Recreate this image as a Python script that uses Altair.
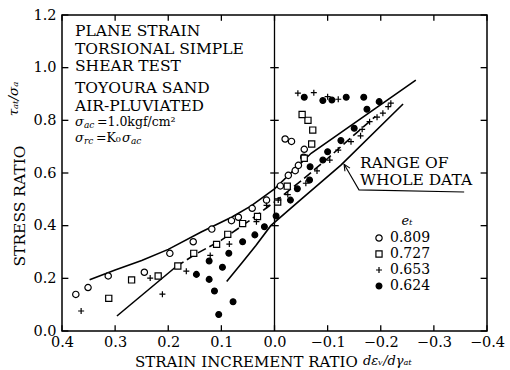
import altair as alt
import pandas as pd

SERIF = "DejaVu Serif"

# ---------------- data ----------------
levels = ["0.809", "0.727", "0.653", "0.624"]

c809_x = [0.374, 0.351, 0.313, 0.245, 0.197, 0.153, 0.118, 0.081, 0.068, 0.042,
          0.015, -0.011, -0.026, -0.039, -0.045, -0.020, -0.032, -0.056, -0.055]
c809_y = [0.139, 0.165, 0.209, 0.223, 0.295, 0.339, 0.387, 0.419, 0.432, 0.466,
          0.497, 0.551, 0.591, 0.609, 0.629, 0.729, 0.720, 0.690, 0.660]

s727_x = [0.312, 0.269, 0.219, 0.182, 0.152, 0.109, 0.088, 0.060, 0.032, -0.006,
          -0.024, -0.056, -0.070, -0.072, -0.063, -0.052]
s727_y = [0.124, 0.194, 0.209, 0.247, 0.295, 0.329, 0.367, 0.408, 0.435, 0.490,
          0.550, 0.656, 0.710, 0.763, 0.800, 0.822]

p653_x = [0.364, 0.234, 0.211, 0.166, 0.121, 0.085, 0.034, 0.015, -0.007, -0.025,
          -0.059, -0.080, -0.104, -0.120, -0.144, -0.162, -0.165, -0.179, -0.193,
          -0.204, -0.214, -0.219, -0.044, -0.074, -0.100, -0.120]
p653_y = [0.076, 0.201, 0.140, 0.227, 0.287, 0.330, 0.415, 0.477, 0.497, 0.518,
          0.561, 0.608, 0.649, 0.687, 0.719, 0.741, 0.766, 0.795, 0.812,
          0.827, 0.852, 0.865, 0.903, 0.905, 0.890, 0.880]

f624_x = [0.147, 0.123, 0.123, 0.113, 0.105, 0.098, 0.086, 0.078, 0.060, 0.037,
          0.019, -0.003, -0.030, -0.043, -0.066, -0.067, -0.091, -0.100, -0.125,
          -0.150, -0.174, -0.197, -0.056, -0.091, -0.108, -0.135, -0.168]
f624_y = [0.215, 0.196, 0.266, 0.152, 0.063, 0.242, 0.295, 0.111, 0.339, 0.365,
          0.396, 0.437, 0.497, 0.540, 0.573, 0.624, 0.649, 0.681, 0.723,
          0.770, 0.842, 0.871, 0.888, 0.875, 0.877, 0.888, 0.888]

# envelope ("range of whole data") and mean line
upper_x = [0.348, 0.30, 0.25, 0.20, 0.138, 0.08, 0.044, 0.0, -0.069, -0.266]
upper_y = [0.195, 0.232, 0.268, 0.31, 0.376, 0.433, 0.475, 0.54, 0.675, 0.953]
lower_x = [0.09, 0.06, 0.035, 0.007, -0.05, -0.125, -0.242]
lower_y = [0.188, 0.262, 0.325, 0.40, 0.50, 0.63, 0.862]
mid_solid_x = [0.2966, 0.1855]
mid_solid_y = [0.057, 0.244]
mid_dash_x = [0.1855, 0.15, 0.10, 0.05, 0.0, -0.05, -0.10, -0.15, -0.19]
mid_dash_y = [0.244, 0.29, 0.345, 0.415, 0.49, 0.57, 0.655, 0.745, 0.815]
leader_x = [-0.131, -0.159, -0.357]
leader_y = [0.633, 0.536, 0.528]
arrow_x = [-0.1326, -0.131, -0.1421]
arrow_y = [0.6066, 0.633, 0.6186]

x_ticks = [0.4, 0.3, 0.2, 0.1, 0.0, -0.1, -0.2, -0.3, -0.4]
y_ticks = [0.0, 0.2, 0.4, 0.6, 0.8, 1.0, 1.2]

# ---------------- tables ----------------
pts = pd.concat([
    pd.DataFrame({"x": c809_x, "y": c809_y, "e": levels[0]}),
    pd.DataFrame({"x": s727_x, "y": s727_y, "e": levels[1]}),
    pd.DataFrame({"x": p653_x, "y": p653_y, "e": levels[2]}),
    pd.DataFrame({"x": f624_x, "y": f624_y, "e": levels[3]}),
], ignore_index=True)


def line_df(xs, ys, name):
    return pd.DataFrame({"x": xs, "y": ys, "i": list(range(len(xs))), "name": name})


solid_lines = pd.concat([line_df(upper_x, upper_y, "upper"),
                         line_df(lower_x, lower_y, "lower"),
                         line_df(mid_solid_x, mid_solid_y, "mid0")], ignore_index=True)
dash_line = line_df(mid_dash_x, mid_dash_y, "mid")
leader = pd.concat([line_df(leader_x, leader_y, "leader"),
                    line_df(arrow_x, arrow_y, "arrow")], ignore_index=True)

segs = []
for v in x_ticks:
    segs.append((v, v, 0.0, 0.022))
    segs.append((v, v, 1.2, 1.178))
for v in y_ticks:
    segs.append((0.4, 0.388, v, v))
    segs.append((-0.4, -0.388, v, v))
for v in y_ticks[1:-1]:
    segs.append((0.008, -0.008, v, v))
segs.append((0.0, 0.0, 0.0, 1.2))
ticks = pd.DataFrame(segs, columns=["x", "x2", "y", "y2"])

# ---------------- scales / axes ----------------
X_SCALE = alt.Scale(domain=[-0.4, 0.4], reverse=True, nice=False, zero=False)
Y_SCALE = alt.Scale(domain=[0, 1.2], nice=False, zero=False)
x_axis = alt.Axis(values=x_ticks, format=".1f", title=None, ticks=False, domain=False,
                  grid=False, labelFont=SERIF, labelFontSize=14.5, labelColor="black",
                  labelPadding=4, labelFlush=False)
y_axis = alt.Axis(values=y_ticks, format=".1f", title=None, ticks=False, domain=False,
                  grid=False, labelFont=SERIF, labelFontSize=14.5, labelColor="black",
                  labelPadding=6, labelFlush=False)


def X(f):
    return alt.X(f, type="quantitative", scale=X_SCALE, axis=x_axis)


def Y(f):
    return alt.Y(f, type="quantitative", scale=Y_SCALE, axis=y_axis)


tick_layer = alt.Chart(ticks).mark_rule(color="black", strokeWidth=1.3).encode(
    x=X("x"), x2=alt.X2("x2"), y=Y("y"), y2=alt.Y2("y2"))

solid_layer = alt.Chart(solid_lines).mark_line(color="black", strokeWidth=1.6).encode(
    x=X("x"), y=Y("y"), order=alt.Order("i:Q"), detail="name:N")
dash_layer = alt.Chart(dash_line).mark_line(color="black", strokeWidth=1.6,
                                             strokeDash=[9, 4]).encode(
    x=X("x"), y=Y("y"), order=alt.Order("i:Q"))
leader_layer = alt.Chart(leader).mark_line(color="black", strokeWidth=1.1).encode(
    x=X("x"), y=Y("y"), order=alt.Order("i:Q"), detail="name:N")

leg = alt.Legend(orient="none", legendX=310, legendY=216, title=None,
                 labelFont=SERIF, labelFontSize=14, labelColor="black",
                 symbolStrokeColor="black", symbolStrokeWidth=1.2,
                 rowPadding=2, labelOffset=4, padding=0)

plus_path = "M-1,0L1,0M0,-1L0,1"
point_layer = alt.Chart(pts).mark_point(filled=True, stroke="black", strokeWidth=1.2,
                                         opacity=1).encode(
    x=X("x"), y=Y("y"),
    shape=alt.Shape("e:N", scale=alt.Scale(domain=levels,
                    range=["circle", "square", plus_path, "circle"]), legend=leg),
    fill=alt.Fill("e:N", scale=alt.Scale(domain=levels,
                  range=["white", "white", "black", "black"]), legend=leg),
    stroke=alt.Stroke("e:N", scale=alt.Scale(domain=levels,
                      range=["black", "black", "black", "black"]), legend=leg),
    size=alt.Size("e:N", scale=alt.Scale(domain=levels, range=[40, 34, 90, 45]),
                  legend=leg),
)

# ---------------- texts (pixel positions in the page) ----------------
OX, OY = 62, 15


def txt(s, x, y, size, style="normal", angle=0, align="left"):
    return alt.Chart(pd.DataFrame({"a": [0]})).mark_text(
        text=s, font=SERIF, fontSize=size, fontStyle=style, align=align,
        baseline="middle", angle=angle, color="black").encode(
        x=alt.value(x - OX), y=alt.value(y - OY))


texts = [
    txt("PLANE STRAIN", 75, 31, 15.5),
    txt("TORSIONAL SIMPLE", 75, 48.5, 15.5),
    txt("SHEAR TEST", 75, 66, 15.5),
    txt("TOYOURA SAND", 75, 88, 15.5),
    txt("AIR-PLUVIATED", 75, 105.5, 15.5),
    txt("σ", 75, 121.5, 13, "italic"),
    txt("ac", 84, 125, 9, "italic"),
    txt("=1.0kgf/cm²", 97, 121.5, 12.5),
    txt("σ", 75, 137.5, 13, "italic"),
    txt("rc", 84, 141, 9, "italic"),
    txt("=K₀", 96, 137.5, 12.5),
    txt("σ", 122, 137.5, 13, "italic"),
    txt("ac", 131, 141, 9, "italic"),
    txt("RANGE OF", 360, 163, 15.5),
    txt("WHOLE DATA", 360, 180, 15.5),
    txt("eₜ", 407, 221, 13, "italic", align="center"),
    txt("STRAIN INCREMENT RATIO", 135, 362, 15),
    txt("dεᵥ/dγₐₜ", 363, 361, 13, "italic"),
    txt("STRESS RATIO", 20, 206, 15.5, angle=270, align="center"),
    txt("τₐₜ/σₐ", 14, 99, 13.5, "italic", angle=270, align="center"),
]

chart = alt.layer(tick_layer, solid_layer, dash_layer, leader_layer, point_layer,
                  *texts).properties(
    width=425, height=316,
    autosize=alt.AutoSizeParams(type="none"),
    padding={"left": 62, "top": 15, "right": 23, "bottom": 39},
).configure_view(stroke="black", strokeWidth=1.5)

chart.save("out.html", embed_options={"renderer": "svg", "actions": False})
